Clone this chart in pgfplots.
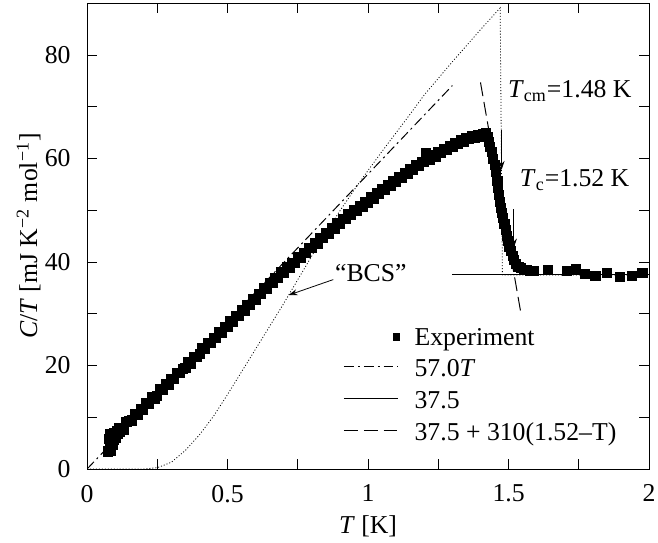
\documentclass[border=0pt]{standalone}
\usepackage{fontspec}
\setmainfont{Liberation Serif}
\usepackage{pgfplots}
\pgfplotsset{compat=1.18}
\usetikzlibrary{arrows.meta}
\pgfplotsset{
  linelegend/.style={legend image code/.code={\draw[##1] (0pt,1.75pt) -- (27.5pt,1.75pt);}},
  marklegend/.style={legend image code/.code={\path (0pt,0pt) (27.5pt,0pt); \draw[##1, mark size=1.7pt] plot coordinates {(26.5pt,0.9pt)};}},
}

\begin{document}
\fontsize{13}{15}\selectfont
\begin{tikzpicture}[annarrow/.style={-{Stealth[length=4.5pt,width=3pt]}, line width=0.5pt}]
\begin{axis}[
  scale only axis,
  width=284pt, height=235.35pt,
  xmin=0, xmax=2, ymin=0, ymax=90,
  xtick={0,0.25,0.5,0.75,1,1.25,1.5,1.75,2},
  xticklabels={0,,0.5,,1,,1.5,,2},
  ytick={0,10,20,30,40,50,60,70,80,90},
  yticklabels={0,,20,,40,,60,,80,},
  tick align=inside,
  major tick length=5pt,
  axis line style={line width=0.5pt},
  tick style={line width=0.5pt, black},
  font=\fontsize{13}{15}\selectfont,
  xticklabel style={yshift=-3.5pt},
  yticklabel style={xshift=-3.8pt},
  xlabel={\textit{T} [K]},
  ylabel={\textit{C}/\textit{T} [mJ K\textsuperscript{−2} mol\textsuperscript{−1}]},
  xlabel style={at={(axis description cs:0.5,0)}, anchor=center, yshift=-29pt},
  ylabel style={at={(axis description cs:-0.104,0.5)}, anchor=center},
  legend cell align=left,
  legend style={draw=none, fill=none, inner sep=0pt,
    at={(axis cs:0.911,28.05)}, anchor=north west,
    row sep=1.6pt, column sep=6.5pt,
    nodes={inner sep=1pt, text height=9.5pt, text depth=3pt},
    font=\fontsize{13}{15}\selectfont},
  linelegend,
]
\coordinate (sw) at (rel axis cs:0,0);
\coordinate (ne) at (rel axis cs:1,1);

% measured data
\addplot[only marks, mark=square*, mark size=2.3pt, black, marklegend]
coordinates {
(0.075,3.4)(0.078,5.9)(0.080,4.1)(0.082,6.8)(0.084,3.6)(0.086,5.2)(0.089,6.5)(0.091,4.6)
(0.094,7.0)(0.097,5.6)(0.100,6.9)(0.103,6.1)(0.106,7.4)(0.109,6.7)(0.112,7.9)(0.116,7.2)
(0.12,7.9)(0.13,7.6)(0.14,9.1)(0.15,9.3)(0.16,9.4)(0.17,10.7)(0.18,10.4)(0.19,11.7)
(0.20,11.5)(0.21,12.8)(0.22,12.5)(0.23,13.9)(0.24,13.6)(0.25,14.2)(0.26,15.4)(0.27,15.3)
(0.28,16.4)(0.29,16.3)(0.30,17.4)(0.31,17.4)(0.32,18.6)(0.33,18.5)(0.34,19.4)(0.35,19.5)
(0.36,20.7)(0.37,20.4)(0.38,21.7)(0.39,21.7)(0.40,22.2)(0.41,23.3)(0.42,23.3)(0.43,24.3)
(0.44,24.3)(0.45,25.4)(0.46,25.3)(0.47,26.5)(0.48,26.4)(0.49,27.5)(0.50,27.4)(0.51,28.6)
(0.52,28.5)(0.53,29.6)(0.54,29.6)(0.55,30.7)(0.56,30.6)(0.57,31.7)(0.58,31.7)(0.59,32.8)
(0.60,32.7)(0.61,33.9)(0.62,33.8)(0.63,34.9)(0.64,34.9)(0.65,35.9)(0.66,35.9)(0.67,37.0)
(0.68,37.0)(0.69,38.0)(0.70,37.9)(0.71,39.0)(0.72,38.9)(0.73,39.9)(0.74,39.8)(0.75,40.9)
(0.76,40.8)(0.77,41.8)(0.78,41.7)(0.79,42.8)(0.80,42.7)(0.81,43.7)(0.82,43.6)(0.83,44.7)
(0.84,44.6)(0.85,45.6)(0.86,45.5)(0.87,46.6)(0.88,46.5)(0.89,47.5)(0.90,47.4)(0.91,48.4)
(0.92,48.3)(0.93,49.3)(0.94,49.1)(0.95,50.1)(0.96,49.9)(0.97,50.9)(0.98,50.7)(0.99,51.7)
(1.00,51.5)(1.01,52.5)(1.02,52.3)(1.03,53.3)(1.04,53.1)(1.05,54.1)(1.06,53.9)(1.07,54.9)
(1.08,54.7)(1.09,55.6)(1.10,55.5)(1.11,56.5)(1.12,56.2)(1.13,57.2)(1.14,57.0)(1.15,58.0)
(1.16,57.8)(1.17,58.7)(1.18,58.5)(1.19,59.4)(1.20,59.3)(1.205,61.0)(1.21,60.1)(1.22,59.8)
(1.23,60.7)(1.24,60.4)(1.25,61.3)(1.26,61.0)(1.27,61.9)(1.28,61.6)(1.29,62.5)(1.30,62.2)
(1.31,63.1)(1.32,62.8)(1.33,63.6)(1.34,63.3)(1.35,64.0)(1.36,63.8)(1.37,64.4)(1.38,64.0)
(1.39,64.6)(1.40,64.2)(1.41,64.8)(1.42,65.0)
(1.425,64.2)(1.43,63.2)(1.435,62.3)(1.44,61.2)(1.445,60.0)(1.45,58.8)(1.455,57.4)(1.46,55.6)
(1.463,54.3)(1.466,52.9)(1.469,51.6)(1.473,50.5)(1.477,49.5)(1.481,48.5)(1.485,47.3)(1.489,46.2)
(1.493,45.1)(1.498,44.0)(1.503,43.0)(1.508,42.1)(1.514,41.2)(1.520,40.4)(1.527,39.7)(1.535,39.1)
(1.545,38.8)(1.555,38.5)(1.565,38.4)(1.575,38.3)(1.59,38.3)
(1.64,38.4)(1.707,38.2)(1.738,38.7)(1.773,37.7)(1.809,37.4)(1.85,37.9)(1.897,37.1)(1.938,37.4)(1.976,37.9)
};
\addlegendentry{Experiment}

\addplot[black, line width=0.5pt, dash pattern=on 5pt off 2pt on 1pt off 2pt]
  coordinates {(0,0) (1.3,74.1)};
\addlegendentry{57.0\textit{T}}

\addplot[black, line width=0.5pt] coordinates {(1.3,37.5) (2,37.5)};
\addlegendentry{37.5}

\addplot[black, line width=0.5pt, dash pattern=on 7pt off 3pt]
  coordinates {(1.40,74.7) (1.545,29.75)};
\addlegendentry{37.5 + 310(1.52–T)}

% BCS curve
\addplot[black, line width=0.4pt, dash pattern=on 0.5pt off 1pt, forget plot]
coordinates {
(0,0)(0.20,0.0)(0.25,0.25)(0.30,1.3)(0.35,3.6)(0.40,6.6)(0.45,10.2)(0.50,14.4)
(0.55,18.8)(0.60,23.2)(0.65,27.6)(0.70,32.0)(0.75,36.6)(0.80,41.2)(0.85,45.7)(0.90,49.9)
(0.95,53.9)(1.00,57.7)(1.05,61.4)(1.10,65.0)(1.15,68.6)(1.20,72.3)(1.25,75.5)(1.30,78.7)
(1.35,81.8)(1.40,84.9)(1.45,87.9)(1.47,89.1)(1.478,37.5)(2,37.5)
};

% annotations
\node[anchor=center, inner sep=0pt] at (axis cs:1.01,37.8) {``BCS''};
\draw[annarrow, line width=0.4pt] (axis cs:0.876,36.6) -- (axis cs:0.717,33.6);
\node[anchor=base west, inner sep=0pt] at (axis cs:1.497,71.8) {\textit{T}\textsubscript{cm}=1.48 K};
\draw[annarrow] (axis cs:1.475,65.5) -- (axis cs:1.475,57.8);
\node[anchor=base west, inner sep=0pt] at (axis cs:1.539,54.6) {\textit{T}\textsubscript{c}=1.52 K};
\draw[annarrow] (axis cs:1.519,50.2) -- (axis cs:1.519,42.8);
\end{axis}
\pgfresetboundingbox
\path[use as bounding box] ([xshift=-44pt,yshift=-37pt]sw) rectangle ([xshift=4.5pt,yshift=1.65pt]ne);
\end{tikzpicture}
\end{document}
